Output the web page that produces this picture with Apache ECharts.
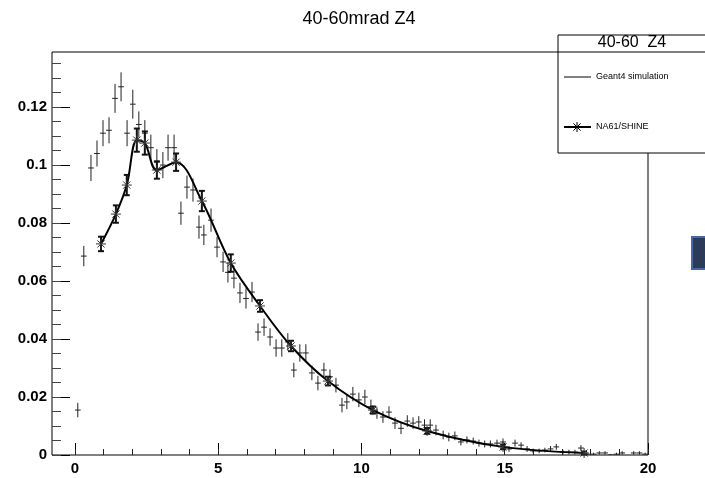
<!DOCTYPE html>
<html><head><meta charset="utf-8">
<script src="https://cdn.jsdelivr.net/npm/echarts@6/dist/echarts.min.js"></script>
<style>html,body{margin:0;padding:0;background:#fff}#c{width:705px;height:478px}</style>
</head><body><div id="c"></div>
<script>
// Geant4 simulation points (x, y, y-error)
const g4x = [0.1,0.31,0.56,0.77,0.98,1.19,1.40,1.61,1.82,2.02,2.23,2.44,2.65,2.86,3.07,3.25,3.46,3.7,3.91,4.12,4.33,4.5,4.75,4.96,5.17,5.34,5.55,5.76,5.97,6.18,6.39,6.6,6.81,7.02,7.22,7.43,7.64,7.85,8.06,8.27,8.48,8.69,8.9,9.11,9.32,9.49,9.7,9.91,10.12,10.33,10.54,10.75,10.96,11.17,11.38,11.6,11.8,12.0,12.2,12.4,12.6,12.85,13.05,13.26,13.47,13.68,13.9,14.1,14.3,14.5,14.73,14.94,15.15,15.36,15.57,15.78,15.99,16.2,16.4,16.6,16.8,17.03,17.24,17.45,17.66,17.87,18.1,18.3,18.5,18.7,18.9,19.1,19.5,19.7,19.9];
const g4y = [0.0155,0.0686,0.099,0.104,0.111,0.112,0.123,0.127,0.111,0.121,0.114,0.111,0.106,0.101,0.100,0.106,0.106,0.0834,0.0924,0.0914,0.0786,0.0759,0.081,0.0717,0.0666,0.063,0.061,0.0559,0.054,0.0562,0.0424,0.0441,0.0407,0.0369,0.0369,0.039,0.0293,0.0352,0.0352,0.0283,0.0248,0.0293,0.027,0.0241,0.0172,0.0183,0.021,0.019,0.020,0.0166,0.0145,0.0131,0.0148,0.011,0.0092,0.0117,0.011,0.0114,0.0103,0.0103,0.0086,0.0069,0.0062,0.0066,0.0045,0.0052,0.0048,0.0041,0.0038,0.0038,0.0041,0.0045,0.0021,0.0041,0.0034,0.0021,0.0014,0.0014,0.0017,0.0021,0.0028,0.001,0.001,0.001,0.0024,0.0003,0.0003,0.0007,0.0007,0.0,0.0003,0.0007,0.0007,0.0007,0.0003];
const g4e = [0.0025,0.0035,0.0045,0.0045,0.0045,0.0045,0.005,0.005,0.0045,0.005,0.0045,0.0045,0.0045,0.0045,0.0045,0.0045,0.0045,0.004,0.004,0.004,0.004,0.0035,0.004,0.0035,0.0035,0.0035,0.0035,0.0035,0.0035,0.0035,0.003,0.003,0.003,0.003,0.003,0.003,0.0025,0.003,0.003,0.0025,0.0025,0.0025,0.0025,0.0025,0.0025,0.0025,0.0025,0.0025,0.0025,0.0025,0.002,0.002,0.002,0.002,0.002,0.002,0.002,0.002,0.002,0.002,0.0018,0.0015,0.0015,0.0015,0.0012,0.0012,0.0012,0.0012,0.0012,0.0012,0.0012,0.0012,0.001,0.0012,0.001,0.001,0.0008,0.0008,0.0008,0.001,0.001,0.0008,0.0008,0.0008,0.001,0.0005,0.0005,0.0006,0.0006,0.0004,0.0005,0.0006,0.0006,0.0006,0.0005];
// NA61/SHINE points
const nx = [0.91,1.43,1.81,2.16,2.44,2.86,3.53,4.43,5.44,6.46,7.54,8.83,10.4,12.29,14.94,17.77];
const ny = [0.0728,0.0831,0.0931,0.1086,0.1076,0.0983,0.1010,0.0876,0.0662,0.0514,0.0376,0.0255,0.0155,0.0083,0.0028,0.0007];
const ne = [0.0025,0.003,0.0035,0.004,0.004,0.003,0.003,0.0035,0.003,0.002,0.0018,0.0015,0.0012,0.001,0.0008,0.0005];
// axis ticks
const xMajor = [0,5,10,15,20];
const xMinor = [0,1,2,3,4,5,6,7,8,9,10,11,12,13,14,15,16,17,18,19,20];
const yMajor = [0,0.02,0.04,0.06,0.08,0.1,0.12];
const yMinor = [0,0.005,0.01,0.015,0.02,0.025,0.03,0.035,0.04,0.045,0.05,0.055,0.06,0.065,0.07,0.075,0.08,0.085,0.09,0.095,0.1,0.105,0.11,0.115,0.12,0.125,0.13,0.135];
const XMIN = -0.8, XMAX = 20, YMIN = 0, YMAX = 0.139;
const XHALF = 0.1;

const chart = echarts.init(document.getElementById('c'), null, {renderer:'canvas'});
const FONT = '"Liberation Sans", Arial, sans-serif';

function g4Render(params, api){
  const x = api.value(0), y = api.value(1), e = api.value(2);
  const a = api.coord([x, y - e]), b = api.coord([x, y + e]);
  const l = api.coord([x - XHALF, y]), r = api.coord([x + XHALF, y]);
  const st = {stroke:'#222', lineWidth:1};
  return {type:'group', children:[
    {type:'line', shape:{x1:a[0],y1:a[1],x2:b[0],y2:b[1]}, style:st},
    {type:'line', shape:{x1:l[0],y1:l[1],x2:r[0],y2:r[1]}, style:st}
  ]};
}
function naRender(params, api){
  const x = api.value(0), y = api.value(1), e = api.value(2);
  const c = api.coord([x, y]);
  const a = api.coord([x, y - e]), b = api.coord([x, y + e]);
  const st = {stroke:'#111', lineWidth:2};
  const s = 5, d = 3.6;
  return {type:'group', children:[
    {type:'line', shape:{x1:a[0],y1:a[1],x2:b[0],y2:b[1]}, style:st},
    {type:'line', shape:{x1:a[0]-3,y1:a[1],x2:a[0]+3,y2:a[1]}, style:st},
    {type:'line', shape:{x1:b[0]-3,y1:b[1],x2:b[0]+3,y2:b[1]}, style:st},
    {type:'line', shape:{x1:c[0]-s,y1:c[1],x2:c[0]+s,y2:c[1]}, style:{stroke:'#333',lineWidth:1}},
    {type:'line', shape:{x1:c[0],y1:c[1]-s,x2:c[0],y2:c[1]+s}, style:{stroke:'#333',lineWidth:1}},
    {type:'line', shape:{x1:c[0]-d,y1:c[1]-d,x2:c[0]+d,y2:c[1]+d}, style:{stroke:'#333',lineWidth:1}},
    {type:'line', shape:{x1:c[0]-d,y1:c[1]+d,x2:c[0]+d,y2:c[1]-d}, style:{stroke:'#333',lineWidth:1}}
  ]};
}

const g4Data = g4x.map((x,i)=>[x, g4y[i], g4e[i]]);
const naData = nx.map((x,i)=>[x, ny[i], ne[i]]);
const lineData = nx.map((x,i)=>[x, ny[i]]);

const hidden = {show:false};
const noLine = {show:false, onZero:false};
chart.setOption({
  animation:false,
  backgroundColor:'#fff',
  title:{text:'40-60mrad Z4', left:354, textAlign:'center', top:5,
    textStyle:{fontFamily:FONT, fontSize:18, fontWeight:'normal', color:'#000'}},
  grid:{left:52, right:57, top:52, bottom:23, show:true, borderColor:'#000', borderWidth:1, backgroundColor:'transparent'},
  xAxis:[
    {type:'value', min:XMIN, max:XMAX, position:'bottom',
      axisLine:noLine, splitLine:hidden,
      axisTick:{show:true, inside:true, length:12, customValues:xMajor, lineStyle:{color:'#000'}},
      axisLabel:{show:true, customValues:xMajor, margin:6, fontFamily:FONT, fontSize:15, fontWeight:'bold', color:'#000'}},
    {type:'value', min:XMIN, max:XMAX, position:'bottom',
      axisLine:noLine, splitLine:hidden, axisLabel:hidden,
      axisTick:{show:true, inside:true, length:6, customValues:xMinor, lineStyle:{color:'#222'}}}
  ],
  yAxis:[
    {type:'value', min:YMIN, max:YMAX, position:'left',
      axisLine:noLine, splitLine:hidden,
      axisTick:{show:true, inside:true, length:18, customValues:yMajor, lineStyle:{color:'#000'}},
      axisLabel:{show:true, customValues:yMajor, margin:5, fontFamily:FONT, fontSize:15, fontWeight:'bold', color:'#000'}},
    {type:'value', min:YMIN, max:YMAX, position:'left',
      axisLine:noLine, splitLine:hidden, axisLabel:hidden,
      axisTick:{show:true, inside:true, length:9, customValues:yMinor, lineStyle:{color:'#444'}}}
  ],
  series:[
    {type:'custom', name:'Geant4 simulation', xAxisIndex:0, yAxisIndex:0, data:g4Data, renderItem:g4Render, z:3, clip:true},
    {type:'line', name:'NA61/SHINE curve', xAxisIndex:0, yAxisIndex:0, data:lineData, smooth:0.35, symbol:'none',
      lineStyle:{color:'#000', width:2}, z:4},
    {type:'custom', name:'NA61/SHINE', xAxisIndex:0, yAxisIndex:0, data:naData, renderItem:naRender, z:5}
  ],
  graphic:[
    {type:'rect', shape:{x:558, y:35, width:170, height:118}, style:{fill:'#fff', stroke:'#000', lineWidth:1}, z:100},
    {type:'line', shape:{x1:558, y1:52, x2:705, y2:52}, style:{stroke:'#000', lineWidth:1}, z:101},
    {type:'text', x:632, y:43, style:{text:'40-60  Z4', fontFamily:FONT, fontSize:16, fill:'#000', align:'center', verticalAlign:'middle'}, z:101},
    {type:'line', shape:{x1:564, y1:77, x2:591, y2:77}, style:{stroke:'#000', lineWidth:1}, z:101},
    {type:'text', x:596, y:77, style:{text:'Geant4 simulation', fontFamily:FONT, fontSize:9, fill:'#000', align:'left', verticalAlign:'middle'}, z:101},
    {type:'line', shape:{x1:564, y1:127, x2:591, y2:127}, style:{stroke:'#000', lineWidth:2}, z:101},
    {type:'line', shape:{x1:572, y1:127, x2:582, y2:127}, style:{stroke:'#000', lineWidth:1}, z:102},
    {type:'line', shape:{x1:577, y1:122, x2:577, y2:132}, style:{stroke:'#000', lineWidth:1}, z:102},
    {type:'line', shape:{x1:573.4, y1:123.4, x2:580.6, y2:130.6}, style:{stroke:'#000', lineWidth:1}, z:102},
    {type:'line', shape:{x1:573.4, y1:130.6, x2:580.6, y2:123.4}, style:{stroke:'#000', lineWidth:1}, z:102},
    {type:'text', x:596, y:127, style:{text:'NA61/SHINE', fontFamily:FONT, fontSize:9, fill:'#000', align:'left', verticalAlign:'middle'}, z:101},
    {type:'rect', shape:{x:692, y:237, width:16, height:32}, style:{fill:'#2c3b58', stroke:'#4468a8', lineWidth:2}, z:100}
  ]
});
</script></body></html>
